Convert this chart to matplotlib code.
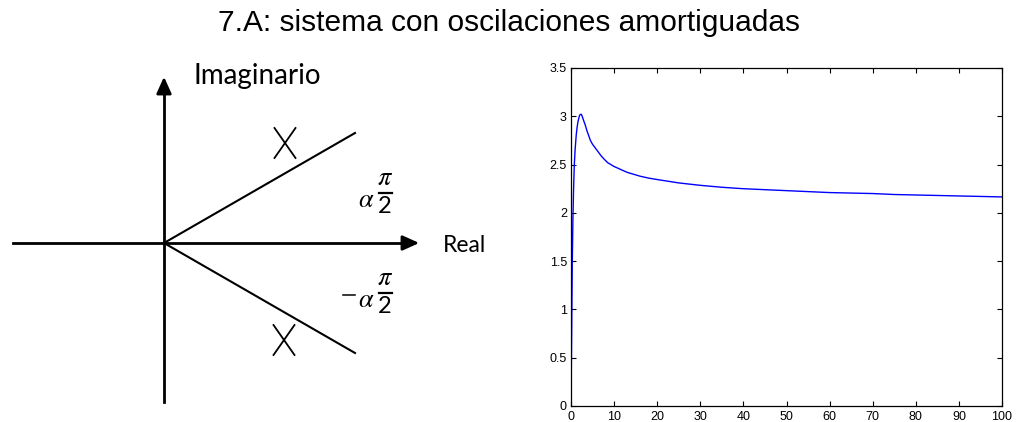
import numpy as np
import matplotlib.pyplot as plt
from matplotlib.patches import Rectangle

# Step response samples (time, output)
t = [0, 0.1, 0.2, 0.3, 0.45, 0.6, 0.77, 0.95, 1.2, 1.4, 1.6, 1.8, 2.0, 2.2, 2.4,
     2.6, 2.9, 3.3, 3.7, 4.1, 4.5, 5.0, 5.5, 6.0, 6.5, 7.0, 7.6, 8.5, 10,
     11.5, 13, 14.5, 16, 18, 20, 25, 30, 35, 40, 45, 50, 55, 60, 65, 70,
     75, 80, 85, 90, 95, 100]
y = [0, 0.5, 1.0, 1.5, 1.95, 2.25, 2.5, 2.65, 2.8, 2.88, 2.94, 2.98, 3.01, 3.02, 3.02,
     3.0, 2.96, 2.91, 2.85, 2.8, 2.75, 2.71, 2.68, 2.65, 2.62, 2.59, 2.56, 2.52, 2.48,
     2.45, 2.42, 2.4, 2.38, 2.36, 2.345, 2.31, 2.285, 2.265, 2.25, 2.24, 2.23, 2.22, 2.21, 2.205, 2.2,
     2.19, 2.185, 2.18, 2.175, 2.17, 2.165]

xticks = [0, 10, 20, 30, 40, 50, 60, 70, 80, 90, 100]
yticks = [0, 0.5, 1, 1.5, 2, 2.5, 3, 3.5]
ytick_labels = ["0", "0.5", "1", "1.5", "2", "2.5", "3", "3.5"]

W, H = 1017, 422
fig = plt.figure(figsize=(W / 100, H / 100), dpi=100)

fig.text(0.5, 1 - 23 / H, "7.A: sistema con oscilaciones amortiguadas",
         ha="center", va="center", fontsize=21.5, family="Liberation Sans")

# s-plane sketch, drawn in pixel units
sk = fig.add_axes([0, 0, 1, 1])
sk.set_xlim(0, W)
sk.set_ylim(H, 0)
sk.axis("off")

ox, oy = 164, 243
sk.plot([13, 410], [oy, oy], color="black", lw=2)
sk.plot([ox, ox], [402, 86], color="black", lw=2)
sk.annotate("", xy=(422, oy), xytext=(400, oy),
            arrowprops=dict(arrowstyle="-|>,head_length=1.0,head_width=0.45",
                            color="black", lw=2))
sk.annotate("", xy=(ox, 74), xytext=(ox, 96),
            arrowprops=dict(arrowstyle="-|>,head_length=1.0,head_width=0.45",
                            color="black", lw=2))
sk.plot([ox, 355], [oy, 133], color="black", lw=1.5)
sk.plot([ox, 355], [oy, 353], color="black", lw=1.5)

# poles
for cx, cy in [(285, 143), (284, 340)]:
    sk.plot([cx - 10.5, cx + 10.5], [cy - 15, cy + 15], color="black", lw=1.3)
    sk.plot([cx - 10.5, cx + 10.5], [cy + 15, cy - 15], color="black", lw=1.3)

sk.text(193, 76, "Imaginario", ha="left", va="center", fontsize=20, family="Lato")
sk.text(443, 245, "Real", ha="left", va="center", fontsize=16.5, family="Lato")


def angle_label(ybar, sign=False):
    # alpha * pi/2 written as a stacked fraction
    if sign:
        sk.plot([343, 355], [ybar + 2, ybar + 2], color="black", lw=1.1)
    sk.text(358, ybar + 7, r"$\alpha$", ha="left", va="center", fontsize=19,
            math_fontfamily="stix")
    sk.text(385, ybar - 2, r"$\pi$", ha="center", va="bottom", fontsize=19,
            math_fontfamily="stix")
    sk.plot([379, 392], [ybar, ybar], color="black", lw=1.6)
    two = sk.text(385, ybar + 3, "2", ha="center", va="top", fontsize=17,
                  family="Lato")
    two.set_clip_path(Rectangle((300, 0), 150, 313, transform=sk.transData))


angle_label(193)
angle_label(293, sign=True)

# step response
ax = fig.add_axes([571 / W, 1 - 406 / H, (1002 - 571) / W, (406 - 68) / H])
ax.plot(t, y, color="blue", lw=1)
ax.set_xlim(0, 100)
ax.set_ylim(0, 3.5)
ax.set_xticks(xticks)
ax.set_yticks(yticks)
ax.set_yticklabels(ytick_labels)
ax.tick_params(direction="in", top=True, right=True, labelsize=9, length=3.5,
               width=0.8, pad=3)
ax.tick_params(axis="x", pad=3.5)
for lbl in ax.get_xticklabels() + ax.get_yticklabels():
    lbl.set_family("Liberation Sans")
for s in ax.spines.values():
    s.set_linewidth(0.9)

plt.savefig("out.png", dpi=100)
